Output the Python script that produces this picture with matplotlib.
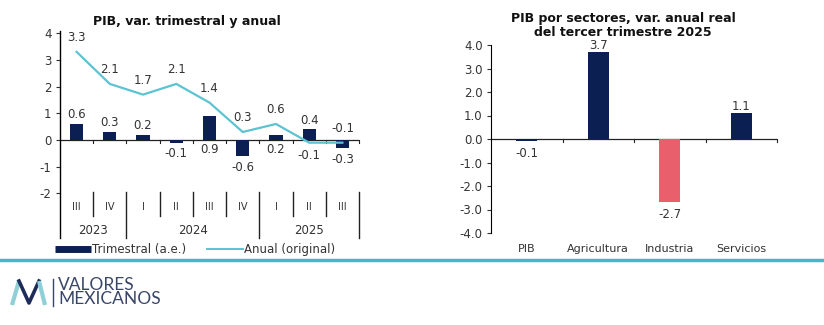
import matplotlib
matplotlib.use("Agg")
import matplotlib.pyplot as plt
from matplotlib.lines import Line2D

# datos
trimestres = ["III", "IV", "I", "II", "III", "IV", "I", "II", "III"]
anios = ["2023", "2024", "2025"]
anios_n = [2, 4, 3]          # trimestres por año
trimestral = [0.6, 0.3, 0.2, -0.1, 0.9, -0.6, 0.2, 0.4, -0.3]
anual = [3.3, 2.1, 1.7, 2.1, 1.4, 0.3, 0.6, -0.1, -0.1]
sectores = ["PIB", "Agricultura", "Industria", "Servicios"]
sector_var = [-0.1, 3.7, -2.7, 1.1]

# dónde va cada etiqueta: a = arriba, b = abajo, z = bajo el cero
pos_trim = ["a", "a", "a", "b", "z", "b", "z", "a", "b"]
pos_anual = ["a", "a", "a", "a", "a", "a", "a", "b", "a"]

NAVY = "#0c1f52"
TEAL = "#5cc3d2"
RED = "#e9606c"
GRIS = "#333333"

plt.rcParams["font.family"] = "DejaVu Sans"
plt.rcParams["axes.unicode_minus"] = False
W, H = 824, 325
fig = plt.figure(figsize=(W / 100, H / 100), dpi=100)
fig.patch.set_facecolor("white")


def px_axes(x0, x1, y0, y1):
    return fig.add_axes([x0 / W, 1 - y1 / H, (x1 - x0) / W, (y1 - y0) / H])


# ---- grafica izquierda
ax = px_axes(60, 359, 30.5, 237.5)
n = len(trimestres)
x = list(range(n))
ax.bar(x, trimestral, width=0.4, color=NAVY, zorder=2)
ax.plot(x, anual, color=TEAL, lw=1.6, zorder=3)
ax.set_xlim(-0.5, n - 0.5)
ax.set_ylim(-3.65, 4.1)
ax.set_yticks(range(-2, 5))
ax.tick_params(axis="y", labelsize=8.5, length=3, width=0.8, pad=3, colors=GRIS)
ax.set_xticks([])
for s in ["top", "right", "bottom"]:
    ax.spines[s].set_visible(False)
ax.spines["left"].set_linewidth(1)
ax.axhline(0, color="#222222", lw=0.9, zorder=1)
for b in range(1, n + 1):
    ax.plot([b - 0.5, b - 0.5], [0, -0.12], color="#222222", lw=0.8, clip_on=False)

for i, v in enumerate(trimestral):
    if pos_trim[i] == "a":
        y, off = v, 9
    elif pos_trim[i] == "b":
        y, off = v, -11
    else:
        y, off = 0, -9
    ax.annotate(f"{v:.1f}", (i, y), xytext=(0, off), textcoords="offset pixels",
                ha="center", va="center", fontsize=8.5, color=GRIS)
for i, v in enumerate(anual):
    off = 14 if pos_anual[i] == "a" else -13
    ax.annotate(f"{v:.1f}", (i, v), xytext=(0, off), textcoords="offset pixels",
                ha="center", va="center", fontsize=8.5, color=GRIS)

# ejes de categorías (trimestre / año)
for i, t in enumerate(trimestres):
    ax.text(i, -2.5, t, ha="center", va="center", fontsize=7, color=GRIS)
start = 0
for a, k in zip(anios, anios_n):
    ax.text(start + (k - 1) / 2, -3.38, a, ha="center", va="center", fontsize=8.5, color=GRIS)
    for j in range(1, k):
        ax.plot([start + j - 0.5] * 2, [-1.95, -2.85], color="#222222", lw=1, clip_on=False)
    ax.plot([start + k - 0.5] * 2, [-1.95, -3.65], color="#222222", lw=1, clip_on=False)
    start += k

fig.text(187 / W, 1 - 21 / H, "PIB, var. trimestral y anual", ha="center", va="center",
         fontsize=9, fontweight="bold", color="#111111")

handles = [Line2D([], [], color=NAVY, lw=5, solid_capstyle="butt"),
           Line2D([], [], color=TEAL, lw=1.4)]
fig.legend(handles, ["Trimestral (a.e.)", "Anual (original)"], ncol=2, frameon=False,
           loc="center", bbox_to_anchor=(195 / W, 1 - 250 / H), fontsize=8.5,
           handlelength=3.0, handletextpad=0.1, columnspacing=1.8, labelcolor=GRIS)

# ---- grafica derecha
ax2 = px_axes(491, 777, 45, 233)
m = len(sectores)
colores = [RED if s == "Industria" else NAVY for s in sectores]
ax2.bar(range(m), sector_var, width=0.3, color=colores, zorder=2)
ax2.set_xlim(-0.5, m - 0.5)
ax2.set_ylim(-4, 4)
ax2.set_yticks(range(-4, 5))
ax2.set_yticklabels([f"{t:.1f}" for t in range(-4, 5)])
ax2.tick_params(axis="y", labelsize=8.5, length=3, width=0.8, pad=3, colors=GRIS)
ax2.set_xticks(range(m))
ax2.set_xticklabels(sectores, fontsize=8, color=GRIS)
ax2.tick_params(axis="x", length=0, pad=8)
for s in ["top", "right", "bottom"]:
    ax2.spines[s].set_visible(False)
ax2.axhline(0, color="#222222", lw=0.9, zorder=1)
for b in range(1, m + 1):
    ax2.plot([b - 0.5, b - 0.5], [0, -0.12], color="#222222", lw=0.8, clip_on=False)
for i, v in enumerate(sector_var):
    off = 7 if v > 0 else -12
    ax2.annotate(f"{v:.1f}", (i, v), xytext=(0, off), textcoords="offset pixels",
                 ha="center", va="center", fontsize=8.5, color=GRIS)
fig.text(623 / W, 1 - 25.5 / H, "PIB por sectores, var. anual real\ndel tercer trimestre 2025",
         ha="center", va="center", fontsize=9, fontweight="bold", color="#111111",
         linespacing=1.05)

# ---- línea separadora y logo
fig.add_artist(Line2D([0, 1], [1 - 259.5 / H] * 2, transform=fig.transFigure,
                      color="#47b7c4", lw=2.5))
lg = px_axes(0, 200, 265, 325)
lg.set_xlim(0, 200)
lg.set_ylim(325, 265)
lg.axis("off")
lg.plot([12, 19], [305, 281], color="#8fd0d6", lw=3, solid_capstyle="butt")
lg.plot([19, 29, 39], [281, 303, 281], color="#1d2c5a", lw=2.6)
lg.plot([39, 45], [281, 305], color="#8fd0d6", lw=3, solid_capstyle="butt")
lg.plot([53, 53], [279, 306], color="#3a4668", lw=1)
lg.text(58, 292, "VALORES\nMEXICANOS", fontsize=12.5, color="#3a4668", va="center",
        ha="left", family="Lato", linespacing=0.86)

fig.savefig("out.png", dpi=100, facecolor="white")
